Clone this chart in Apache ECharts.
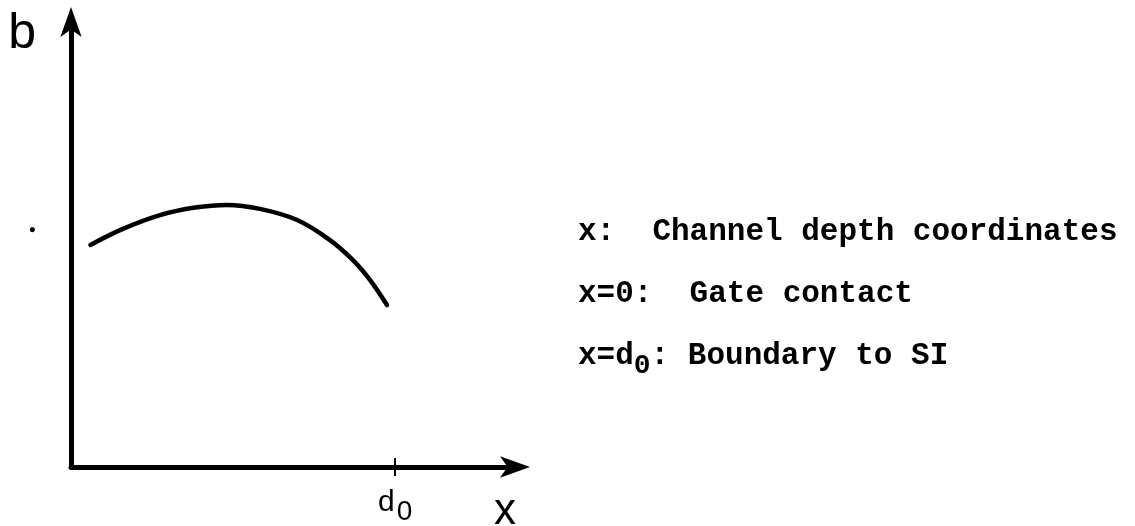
<!DOCTYPE html>
<html>
<head>
<meta charset="utf-8">
<script src="https://cdn.jsdelivr.net/npm/echarts@6/dist/echarts.min.js"></script>
<style>
  html, body { margin: 0; padding: 0; background: #fff; }
  #chart { width: 1135px; height: 526px; }
</style>
</head>
<body>
<div id="chart"></div>
<script>
// Channel depth x (in units of d0) and the profile b(x)
const depth   = [0.06, 0.16, 0.275, 0.383, 0.481, 0.583, 0.698, 0.799, 0.870, 0.923, 0.975];
const bValues = [0.499, 0.535, 0.566, 0.583, 0.589, 0.580, 0.555, 0.510, 0.465, 0.420, 0.364];

// Axis ranges and marked positions
const xRange = [0, 1.37];
const yRange = [0, 1];
const boundaryTicks = [1];        // x = d0
const yDotValues = [0.533];       // small mark left of the b axis

// Explanatory text to the right of the plot
const notes = [
  'x:  Channel depth coordinates',
  'x=0:  Gate contact',
  'x=d{s|0}: Boundary to SI'
];

const sansFamily = '"Liberation Sans", "DejaVu Sans", sans-serif';
const monoFont = 'bold 31px "Liberation Mono", "DejaVu Sans Mono", monospace';
const subFont = 'bold 28px "Liberation Mono", "DejaVu Sans Mono", monospace';
const notesX = 578;
const notesY = [212, 274, 332];

const arrowLine = {
  show: true,
  onZero: false,
  symbol: ['none', 'arrow'],
  symbolSize: [16, 30],
  symbolOffset: [0, 15],
  lineStyle: { color: '#000', width: 5 }
};

const chart = echarts.init(document.getElementById('chart'), null, { renderer: 'canvas' });

chart.setOption({
  backgroundColor: '#ffffff',
  animation: false,
  grid: {
    left: 71, right: 620, top: 22, bottom: 59,
    containLabel: false,
    outerBoundsMode: 'none'
  },
  xAxis: [
    {
      type: 'value',
      min: xRange[0],
      max: xRange[1],
      position: 'bottom',
      name: 'x',
      nameLocation: 'end',
      nameGap: -10,
      nameTextStyle: {
        fontFamily: sansFamily,
        fontSize: 44,
        color: '#000',
        align: 'center',
        verticalAlign: 'top',
        padding: [23, 0, 0, 0]
      },
      axisLine: arrowLine,
      axisTick: {
        show: true,
        customValues: boundaryTicks,
        length: 9,
        lineStyle: { color: '#000', width: 2 }
      },
      splitLine: { show: false },
      axisLabel: {
        customValues: boundaryTicks,
        margin: 13,
        color: '#000',
        fontFamily: sansFamily,
        fontSize: 30,
        formatter: () => 'd{s|0}',
        rich: {
          s: {
            fontFamily: sansFamily,
            fontSize: 28,
            color: '#000',
            verticalAlign: 'bottom',
            lineHeight: 46,
            padding: [0, 0, 0, 2]
          }
        }
      }
    },
    {
      // second copy of the x scale: only draws the upper half of the d0 tick
      type: 'value',
      min: xRange[0],
      max: xRange[1],
      position: 'bottom',
      axisLine: { show: false, onZero: false },
      axisTick: {
        show: true,
        inside: true,
        customValues: boundaryTicks,
        length: 9,
        lineStyle: { color: '#000', width: 2 }
      },
      axisLabel: { show: false },
      splitLine: { show: false }
    }
  ],
  yAxis: {
    type: 'value',
    min: yRange[0],
    max: yRange[1],
    name: 'b',
    nameLocation: 'end',
    nameGap: -12,
    nameTextStyle: {
      fontFamily: sansFamily,
      fontSize: 50,
      color: '#000',
      align: 'right',
      verticalAlign: 'middle',
      padding: [0, 35, 0, 0]
    },
    axisLine: arrowLine,
    axisTick: { show: false },
    splitLine: { show: false },
    axisLabel: {
      customValues: yDotValues,
      margin: 35,
      color: '#000',
      fontSize: 12,
      formatter: () => '●'
    }
  },
  series: [
    {
      type: 'line',
      xAxisIndex: 0,
      data: depth.map((x, i) => [x, bValues[i]]),
      smooth: 0.35,
      showSymbol: false,
      symbol: 'none',
      lineStyle: { color: '#000', width: 4.5, cap: 'round' }
    }
  ],
  graphic: notes.map((t, i) => ({
    type: 'text',
    x: notesX,
    y: notesY[i],
    silent: true,
    style: {
      text: t,
      font: monoFont,
      fill: '#000',
      textVerticalAlign: 'top',
      lineHeight: 40,
      rich: {
        s: { font: subFont, fill: '#000', verticalAlign: 'bottom', lineHeight: 48 }
      }
    }
  }))
});
</script>
</body>
</html>
